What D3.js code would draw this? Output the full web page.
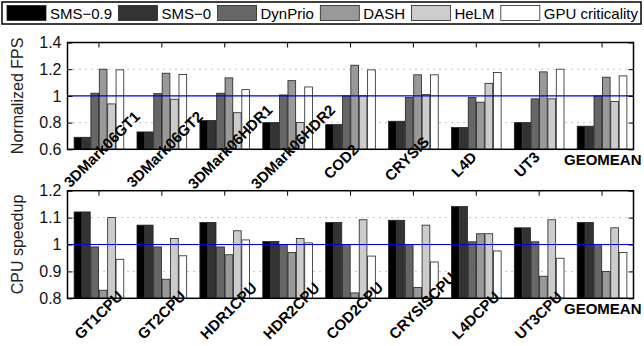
<!DOCTYPE html>
<html>
<head>
<meta charset="utf-8">
<script src="https://cdn.jsdelivr.net/npm/d3@7"></script>
<style>
  body { margin: 0; background: #fff; }
  svg { font-family: "Liberation Sans", Arial, sans-serif; }
</style>
</head>
<body>
<svg id="chart" width="644" height="346"></svg>
<script>
// series names and fills
var series = ["SMS\u22120.9", "SMS\u22120", "DynPrio", "DASH", "HeLM", "GPU criticality"];
var fills = ["#000000", "#333333", "#666666", "#999999", "#cccccc", "#ffffff"];

// top panel: normalized FPS
var gpuApps = ["3DMark06GT1", "3DMark06GT2", "3DMark06HDR1", "3DMark06HDR2", "COD2", "CRYSIS", "L4D", "UT3", "GEOMEAN"];
var fpsSms09 = [0.69, 0.73, 0.815, 0.80, 0.785, 0.81, 0.763, 0.80, 0.773];
var fpsSms0  = [0.69, 0.73, 0.815, 0.80, 0.785, 0.81, 0.763, 0.80, 0.773];
var fpsDyn   = [1.02, 1.017, 1.02, 1.007, 1.0, 0.988, 0.988, 0.978, 1.0];
var fpsDash  = [1.20, 1.17, 1.135, 1.114, 1.23, 1.158, 0.953, 1.18, 1.14];
var fpsHelm  = [0.94, 0.975, 0.874, 0.80, 1.0, 1.01, 1.094, 0.978, 0.958];
var fpsGpu   = [1.195, 1.16, 1.047, 1.067, 1.195, 1.158, 1.175, 1.20, 1.15];
var fpsTicks = [0.6, 0.8, 1.0, 1.2, 1.4];

// bottom panel: CPU speedup
var cpuApps = ["GT1CPU", "GT2CPU", "HDR1CPU", "HDR2CPU", "COD2CPU", "CRYSISCPU", "L4DCPU", "UT3CPU", "GEOMEAN"];
var cpuSms09 = [1.121, 1.072, 1.082, 1.011, 1.082, 1.09, 1.141, 1.062, 1.082];
var cpuSms0  = [1.121, 1.072, 1.082, 1.011, 1.082, 1.09, 1.141, 1.062, 1.082];
var cpuDyn   = [0.991, 0.991, 0.991, 1.0, 1.0, 1.0, 1.01, 1.01, 1.0];
var cpuDash  = [0.83, 0.871, 0.962, 0.97, 0.82, 0.84, 1.04, 0.882, 0.90];
var cpuHelm  = [1.10, 1.022, 1.051, 1.022, 1.092, 1.072, 1.04, 1.092, 1.062];
var cpuGpu   = [0.945, 0.958, 1.017, 1.006, 0.957, 0.935, 0.976, 0.949, 0.97];
var cpuTicks = [0.8, 0.9, 1.0, 1.1, 1.2];

var svg = d3.select("#chart");
var left = 67.5, right = 633.5;
var c45 = Math.SQRT1_2;

function panel(opts) {
  var x = d3.scaleBand().domain(opts.cats).range([left, right]).padding(0);
  var inner = d3.scaleBand().domain(d3.range(series.length))
      .range([x.bandwidth() * 0.105, x.bandwidth() * 0.895]).paddingInner(0.08);
  var y = d3.scaleLinear().domain(opts.domain).range([opts.bottom, opts.top]);
  var g = svg.append("g");

  // dotted grid
  g.selectAll("line.grid").data(opts.ticks.filter(function(t, i) { return i > 0 && i < opts.ticks.length - 1 && t !== 1; }))
    .enter().append("line")
      .attr("x1", left).attr("x2", right)
      .attr("y1", function(d) { return y(d); }).attr("y2", function(d) { return y(d); })
      .attr("stroke", "#888").attr("stroke-width", 1).attr("stroke-dasharray", "1,5");

  // bars
  var groups = g.selectAll("g.grp").data(opts.cats).enter().append("g")
      .attr("transform", function(d) { return "translate(" + x(d) + ",0)"; });
  groups.selectAll("rect").data(function(d, i) {
      return opts.values.map(function(v, s) { return { s: s, v: v[i] }; });
    }).enter().append("rect")
      .attr("x", function(d) { return inner(d.s); })
      .attr("width", inner.bandwidth())
      .attr("y", function(d) { return y(d.v); })
      .attr("height", function(d) { return y(opts.domain[0]) - y(d.v); })
      .attr("fill", function(d) { return fills[d.s]; })
      .attr("stroke", "#222").attr("stroke-width", 0.8);

  // reference line at 1
  g.append("line").attr("x1", left).attr("x2", right)
    .attr("y1", y(1)).attr("y2", y(1))
    .attr("stroke", "#0000cc").attr("stroke-width", 1.2);

  // frame
  g.append("rect").attr("x", left).attr("y", opts.top)
    .attr("width", right - left).attr("height", opts.bottom - opts.top)
    .attr("fill", "none").attr("stroke", "#000").attr("stroke-width", 1.5);

  // inward ticks: top edge at categories, left/right at y ticks
  g.selectAll("line.xt").data(opts.cats).enter().append("line")
    .attr("x1", function(d) { return x(d) + x.bandwidth() / 2; })
    .attr("x2", function(d) { return x(d) + x.bandwidth() / 2; })
    .attr("y1", opts.top).attr("y2", opts.top + 5)
    .attr("stroke", "#000").attr("stroke-width", 1);
  var yAxisL = d3.axisLeft(y).tickValues(opts.ticks).tickSizeInner(-5).tickSizeOuter(0)
      .tickPadding(6).tickFormat(function(d) { return d3.format("~g")(d); });
  var ga = g.append("g").attr("transform", "translate(" + left + ",0)").call(yAxisL);
  ga.select(".domain").remove();
  ga.selectAll("text").attr("font-size", 16).attr("font-family", "Liberation Sans, Arial, sans-serif").attr("fill", "#111");
  var gr = g.append("g").attr("transform", "translate(" + right + ",0)")
      .call(d3.axisRight(y).tickValues(opts.ticks).tickSizeInner(-5).tickSizeOuter(0).tickFormat(""));
  gr.select(".domain").remove();

  // category labels, rotated 45 degrees; a point at labelFrac along the text is pinned
  var labels = g.selectAll("text.cat").data(opts.cats.filter(function(d) { return d !== "GEOMEAN"; }))
    .enter().append("text")
    .attr("text-anchor", "middle").attr("dominant-baseline", "central")
    .attr("font-size", 15).attr("font-weight", "bold").attr("fill", "#000")
    .text(function(d) { return d; });
  labels.attr("transform", function(d) {
    var w = this.getComputedTextLength();
    var k = (0.5 - opts.labelFrac) * w * c45;
    var cx = x(d) + x.bandwidth() / 2 + opts.labelDx + k;
    var cy = opts.bottom + opts.labelDy - k;
    return "translate(" + cx + "," + cy + ") rotate(-45)";
  });
  g.append("text")
    .attr("x", right + 8).attr("y", opts.bottom + 16)
    .attr("text-anchor", "end")
    .attr("font-size", 15).attr("font-weight", "bold")
    .text("GEOMEAN");

  // axis title
  g.append("text")
    .attr("transform", "translate(" + 23 + "," + ((opts.top + opts.bottom) / 2) + ") rotate(-90)")
    .attr("text-anchor", "middle").attr("font-size", 16).attr("fill", "#222")
    .text(opts.title);
}

panel({ cats: gpuApps, values: [fpsSms09, fpsSms0, fpsDyn, fpsDash, fpsHelm, fpsGpu],
        domain: [0.6, 1.4], ticks: fpsTicks, top: 42.5, bottom: 149.3,
        title: "Normalized FPS", labelDx: -18.5, labelDy: 21, labelFrac: 0.2 });
panel({ cats: cpuApps, values: [cpuSms09, cpuSms0, cpuDyn, cpuDash, cpuHelm, cpuGpu],
        domain: [0.8, 1.2], ticks: cpuTicks, top: 190.7, bottom: 298.3,
        title: "CPU speedup", labelDx: -22, labelDy: 38, labelFrac: 0 });

// legend, items spread to fill the box
var lg = svg.append("g");
lg.append("rect").attr("x", 2).attr("y", 2).attr("width", 639).attr("height", 22)
  .attr("fill", "#fff").attr("stroke", "#000").attr("stroke-width", 1.5);
var swW = 39, swGap = 4;
var items = series.map(function(name, i) {
  var t = lg.append("text").attr("y", 19).attr("font-size", 15).attr("fill", "#000").text(name);
  return { t: t, w: t.node().getComputedTextLength(), i: i };
});
var used = d3.sum(items, function(d) { return swW + swGap + d.w; });
var gap = (638 - 7 - used) / (items.length - 1);
var lx = 7;
items.forEach(function(d) {
  lg.append("rect").attr("x", lx).attr("y", 5.5).attr("width", swW).attr("height", 15)
    .attr("fill", fills[d.i]).attr("stroke", "#222").attr("stroke-width", 0.8);
  d.t.attr("x", lx + swW + swGap);
  lx += swW + swGap + d.w + gap;
});
</script>
</body>
</html>
